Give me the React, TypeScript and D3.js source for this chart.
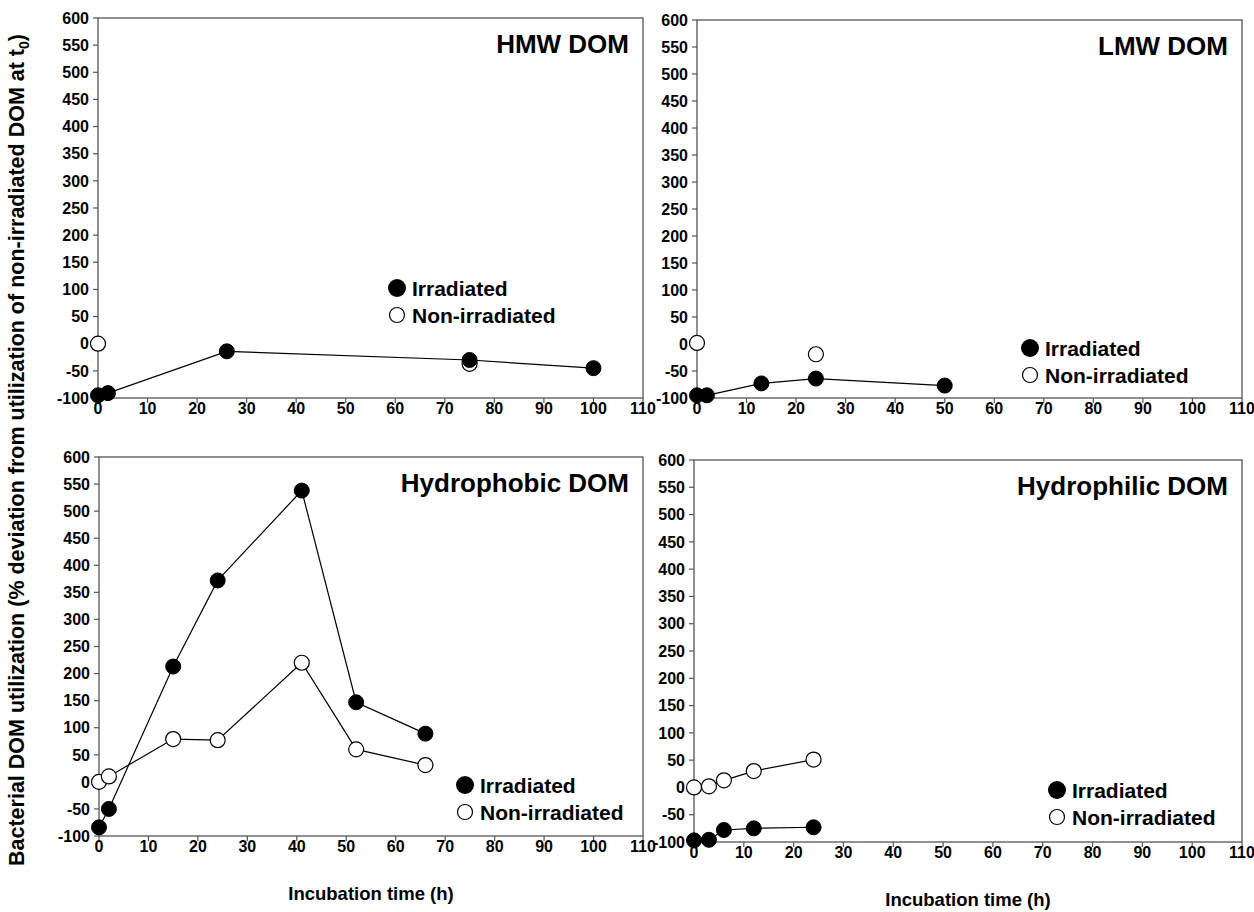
import React from 'react';
import * as d3 from 'd3';

// time (h) and % deviation
const hmwIrrT = [0, 2, 26, 75, 100];
const hmwIrrV = [-95, -91, -14, -30, -45];
const hmwNonT = [0, 75];
const hmwNonV = [0, -37];

const lmwIrrT = [0, 2, 13, 24, 50];
const lmwIrrV = [-95, -95, -73, -64, -77];
const lmwNonT = [0, 24];
const lmwNonV = [2, -19];

const phobIrrT = [0, 2, 15, 24, 41, 52, 66];
const phobIrrV = [-84, -50, 213, 372, 538, 147, 89];
const phobNonT = [0, 2, 15, 24, 41, 52, 66];
const phobNonV = [0, 10, 79, 77, 220, 60, 31];

const philIrrT = [0, 3, 6, 12, 24];
const philIrrV = [-97, -96, -78, -75, -73];
const philNonT = [0, 3, 6, 12, 24];
const philNonV = [0, 2, 13, 30, 51];

const xTicks = d3.range(0, 111, 10);
const yTicks = d3.range(-100, 601, 50);

const FONT = '"Liberation Sans", Arial, sans-serif';

type Pt = { t: number; v: number };
const zip = (t: number[], v: number[]): Pt[] => t.map((x, i) => ({ t: x, v: v[i] }));

interface PanelProps {
  title: string;
  box: { left: number; right: number; top: number; bottom: number };
  irr: Pt[];
  non: Pt[];
  connectNon: boolean;
  legend: { x: number; y: number };
  xTitle: boolean;
}

const Panel: React.FC<PanelProps> = ({ title, box, irr, non, connectNon, legend, xTitle }) => {
  const x = d3.scaleLinear().domain([0, 110]).range([box.left, box.right]);
  const y = d3.scaleLinear().domain([-100, 600]).range([box.bottom, box.top]);
  const line = d3.line<Pt>().x(d => x(d.t)).y(d => y(d.v));
  const r = 7.5;
  return (
    <g>
      {/* frame */}
      <rect x={box.left} y={box.top} width={box.right - box.left} height={box.bottom - box.top}
        fill="none" stroke="#555" strokeWidth={1.3} />
      {/* y axis ticks */}
      {yTicks.map(t => (
        <g key={'y' + t}>
          <line x1={box.left - 5} x2={box.left} y1={y(t)} y2={y(t)} stroke="#555" strokeWidth={1.2} />
          <text x={box.left - 9} y={y(t)} dy="0.36em" textAnchor="end" fontSize={16}
            fontWeight="bold" fontFamily={FONT}>{t}</text>
        </g>
      ))}
      {/* x axis ticks */}
      {xTicks.map(t => (
        <g key={'x' + t}>
          <line x1={x(t)} x2={x(t)} y1={box.bottom} y2={box.bottom + 5} stroke="#555" strokeWidth={1.2} />
          <text x={x(t)} y={box.bottom + 16} textAnchor="middle" fontSize={16}
            fontWeight="bold" fontFamily={FONT}>{t}</text>
        </g>
      ))}
      <text x={box.right - 14} y={box.top + 35} textAnchor="end" fontSize={26}
        fontWeight="bold" fontFamily={FONT}>{title}</text>
      {xTitle && (
        <text x={(box.left + box.right) / 2} y={box.bottom + 64} textAnchor="middle" fontSize={18.5}
          fontWeight="bold" fontFamily={FONT}>Incubation time (h)</text>
      )}
      <path d={line(irr) || ''} fill="none" stroke="#000" strokeWidth={1.2} />
      {connectNon && <path d={line(non) || ''} fill="none" stroke="#000" strokeWidth={1.2} />}
      {non.map((d, i) => (
        <circle key={'n' + i} cx={x(d.t)} cy={y(d.v)} r={r} fill="#fff" stroke="#000" strokeWidth={1.2} />
      ))}
      {irr.map((d, i) => (
        <circle key={'i' + i} cx={x(d.t)} cy={y(d.v)} r={r} fill="#000" stroke="#000" strokeWidth={1} />
      ))}
      {/* legend */}
      <circle cx={legend.x} cy={legend.y} r={9} fill="#000" />
      <text x={legend.x + 15} y={legend.y} dy="0.36em" fontSize={21} fontWeight="bold" fontFamily={FONT}>Irradiated</text>
      <circle cx={legend.x} cy={legend.y + 27} r={7.5} fill="#fff" stroke="#000" strokeWidth={1.2} />
      <text x={legend.x + 15} y={legend.y + 27} dy="0.36em" fontSize={21} fontWeight="bold" fontFamily={FONT}>Non-irradiated</text>
    </g>
  );
};

export default function App() {
  return (
    <div style={{ position: 'absolute', left: 0, top: 0 }}>
      <svg width={1254} height={912} style={{ display: 'block', background: '#fff' }}>
        <Panel title="HMW DOM" box={{ left: 98, right: 643, top: 18, bottom: 398 }}
          irr={zip(hmwIrrT, hmwIrrV)} non={zip(hmwNonT, hmwNonV)} connectNon={false}
          legend={{ x: 397, y: 288 }} xTitle={false} />
        <Panel title="LMW DOM" box={{ left: 697, right: 1242, top: 20, bottom: 398 }}
          irr={zip(lmwIrrT, lmwIrrV)} non={zip(lmwNonT, lmwNonV)} connectNon={false}
          legend={{ x: 1030, y: 348 }} xTitle={false} />
        <Panel title="Hydrophobic DOM" box={{ left: 99, right: 643, top: 457, bottom: 836 }}
          irr={zip(phobIrrT, phobIrrV)} non={zip(phobNonT, phobNonV)} connectNon={true}
          legend={{ x: 465, y: 785 }} xTitle={true} />
        <Panel title="Hydrophilic DOM" box={{ left: 694, right: 1242, top: 460, bottom: 842 }}
          irr={zip(philIrrT, philIrrV)} non={zip(philNonT, philNonV)} connectNon={true}
          legend={{ x: 1057, y: 790 }} xTitle={true} />
        <text transform="translate(24,450) rotate(-90)" textAnchor="middle" fontSize={21.5}
          fontWeight="bold" fontFamily={FONT}>
          Bacterial DOM utilization (% deviation from utilization of non-irradiated DOM at t
          <tspan fontSize={14} dy={5}>0</tspan>
          <tspan dy={-5}>)</tspan>
        </text>
      </svg>
    </div>
  );
}
